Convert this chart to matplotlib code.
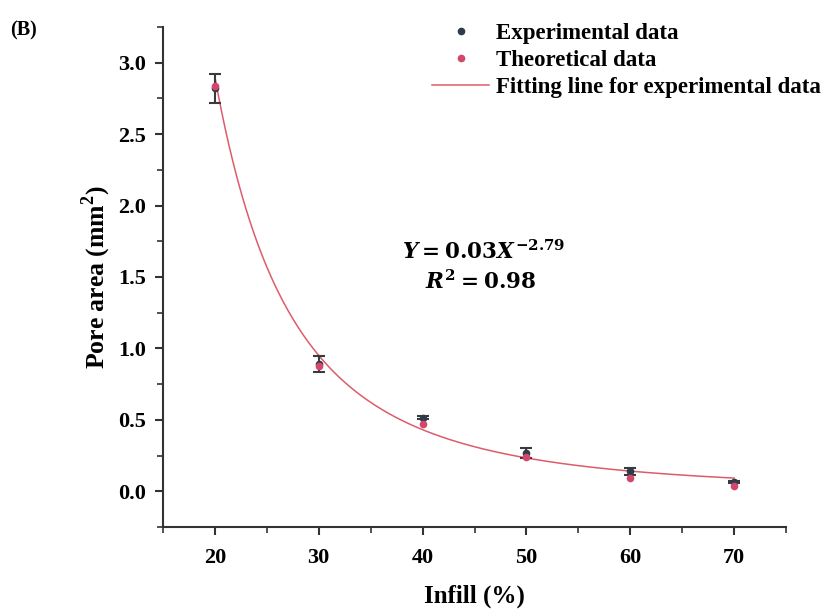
import numpy as np
import matplotlib
matplotlib.use("Agg")
import matplotlib.pyplot as plt
from matplotlib.ticker import MultipleLocator, FormatStrFormatter
from matplotlib.lines import Line2D

# ---- data ----
infill = [20, 30, 40, 50, 60, 70]
exp_area = [2.82, 0.89, 0.515, 0.27, 0.14, 0.065]
exp_err = [0.10, 0.055, 0.012, 0.035, 0.025, 0.01]
theo_area = [2.84, 0.88, 0.47, 0.24, 0.095, 0.035]
x_ticks = [20, 30, 40, 50, 60, 70]
y_ticks = [0.0, 0.5, 1.0, 1.5, 2.0, 2.5, 3.0]
# fitted power law as drawn in the reference (value at 20 % and exponent)
fit_at_20 = 2.90
fit_exponent = 2.75
legend_labels = ['Experimental data', 'Theoretical data', 'Fitting line for experimental data']

plt.rcParams['font.family'] = ['Liberation Serif', 'DejaVu Serif']
plt.rcParams['font.weight'] = 'bold'
plt.rcParams['mathtext.fontset'] = 'custom'
plt.rcParams['mathtext.rm'] = 'DejaVu Serif:bold'
plt.rcParams['mathtext.it'] = 'DejaVu Serif:italic:bold'
plt.rcParams['mathtext.bf'] = 'DejaVu Serif:bold'

fig = plt.figure(figsize=(8.26, 6.10), dpi=100)
ax = fig.add_axes([163/826, 1-527/610, (786-163)/826, (527-27)/610])

xf = np.linspace(infill[0], infill[-1], 300)
yf = fit_at_20 * (xf / infill[0]) ** (-fit_exponent)

line_c = '#dc5c6c'
exp_c = '#2f3b4a'
theo_c = '#d2476a'

ax.plot(xf, yf, color=line_c, lw=1.1, zorder=2)
ax.errorbar(infill, exp_area, yerr=exp_err, fmt='o', ms=4.5, color=exp_c,
            ecolor='#3a3a3a', elinewidth=1.5, capsize=4.5, capthick=1.5, zorder=3)
ax.plot(infill, theo_area, 'o', ms=4.5, color=theo_c, zorder=4)

ax.set_xlim(15, 75)
ax.set_ylim(-0.25, 3.25)
ax.set_xticks(x_ticks)
ax.set_yticks(y_ticks)
ax.xaxis.set_minor_locator(MultipleLocator(5))
ax.yaxis.set_minor_locator(MultipleLocator(0.25))
ax.yaxis.set_major_formatter(FormatStrFormatter('%.1f'))

for s in ['top', 'right']:
    ax.spines[s].set_visible(False)
for s in ['left', 'bottom']:
    ax.spines[s].set_linewidth(1.5)
    ax.spines[s].set_color('#333333')
ax.tick_params(which='major', direction='out', length=6, width=1.5, color='#333333',
               labelsize=16)
ax.tick_params(axis='x', which='major', pad=9)
ax.tick_params(axis='y', which='major', pad=6)
ax.tick_params(which='minor', direction='out', length=4, width=1.2, color='#333333')
for lab in ax.get_xticklabels() + ax.get_yticklabels():
    lab.set_fontweight('bold')

ax.set_xlabel('Infill (%)', fontsize=18, fontweight='bold', labelpad=12)
ax.set_ylabel('Pore area (mm$^{\\mathregular{2}}$)', fontsize=18.5, fontweight='bold', labelpad=4)

ax.text(0.514, 0.55, r'$Y = 0.03X^{-2.79}$', transform=ax.transAxes,
        fontsize=15.5, ha='center', va='center')
ax.text(0.51, 0.49, r'$R^{2} = 0.98$', transform=ax.transAxes,
        fontsize=15.5, ha='center', va='center')

fig.text(10/826, 1-30/610, '(B)', fontsize=14.5, fontweight='bold', ha='left', va='center')

handles = [Line2D([], [], ls='none', marker='o', ms=4.5, color=exp_c),
           Line2D([], [], ls='none', marker='o', ms=4.5, color=theo_c),
           Line2D([], [], color=line_c, lw=1.1)]
leg = fig.legend(handles, legend_labels,
                 loc='upper left', bbox_to_anchor=(432/826, 1-23/610),
                 frameon=False, fontsize=16.5, handlelength=2.5, handletextpad=0.3,
                 labelspacing=0.25, borderpad=0, borderaxespad=0)
for t in leg.get_texts():
    t.set_fontweight('bold')

fig.savefig('out.png', dpi=100)
